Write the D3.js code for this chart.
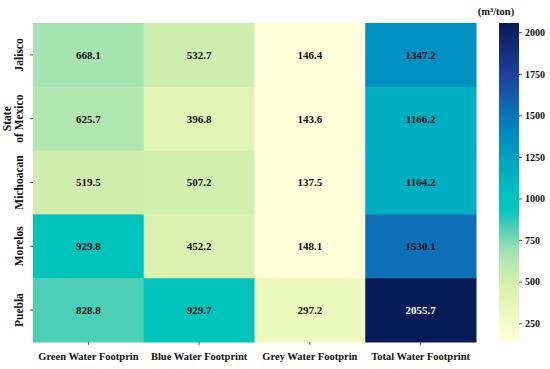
<!DOCTYPE html>
<html><head><meta charset="utf-8">
<script src="https://cdn.jsdelivr.net/npm/d3@7"></script>
<style>body{margin:0;background:#fff}svg{display:block}svg text{font-family:"Liberation Serif","Times New Roman","DejaVu Serif",serif !important;font-weight:bold}</style>
</head><body>
<svg id="c" width="550" height="369"></svg>
<script>
const rows = ["Jalisco", "State\nof Mexico", "Michoacan", "Morelos", "Puebla"];
const cols = ["Green Water Footprin", "Blue Water Footprint", "Grey Water Footprin", "Total Water Footprint"];
const green = [668.1, 625.7, 519.5, 929.8, 828.8];
const blue = [532.7, 396.8, 507.2, 452.2, 929.7];
const grey = [146.4, 143.6, 137.5, 148.1, 297.2];
const total = [1347.2, 1166.2, 1164.2, 1530.1, 2055.7];
const cbTicks = [250, 500, 750, 1000, 1250, 1500, 1750, 2000];
const unitLabel = "(m³/ton)";

const series = [green, blue, grey, total];
const cells = [];
rows.forEach((r, i) => series.forEach((s, j) => cells.push({row: r, col: cols[j], v: s[i]})));
const vmin = d3.min(cells, d => d.v), vmax = d3.max(cells, d => d.v);

const stopVals = [137.5, 300, 450, 530, 630, 670, 830, 930, 1000, 1165, 1347, 1530, 1750, 2055.7];
const stopCols = ["#ffffd9", "#eef9bf", "#daf1b0", "#cdeeae", "#b0e6b1", "#a6e3b3", "#4ccfb5", "#00c4bb", "#00c4bf", "#00aec2", "#0090c2", "#0d6fb5", "#1f3e9b", "#081b58"];
const color = d3.scaleLinear().domain(stopVals).range(stopCols).interpolate(d3.interpolateRgb).clamp(true);

const svg = d3.select("#c");
const L = 33, R = 476, T = 23, B = 342;
const x = d3.scaleBand().domain(cols).range([L, R]);
const y = d3.scaleBand().domain(rows).range([T, B]);

svg.append("g").selectAll("rect").data(cells).join("rect")
  .attr("x", d => x(d.col)).attr("y", d => y(d.row))
  .attr("width", x.bandwidth() + 0.5).attr("height", y.bandwidth() + 0.5)
  .attr("fill", d => color(d.v));

svg.append("g").selectAll("text").data(cells).join("text")
  .attr("x", d => x(d.col) + x.bandwidth() / 2).attr("y", d => y(d.row) + y.bandwidth() / 2)
  .attr("text-anchor", "middle").attr("dy", "0.35em")
  .attr("font-size", 11)
  .attr("fill", d => d.v > 1800 ? "#fff" : "#111")
  .text(d => d.v.toFixed(1));

// x axis
const xa = svg.append("g").attr("transform", `translate(0,${B})`)
  .call(d3.axisBottom(x).tickSize(3).tickPadding(8));
xa.select(".domain").remove();
xa.selectAll("line").attr("stroke", "#555");
xa.selectAll("text").attr("font-size", 10.5).attr("fill", "#111");

// y axis
const ya = svg.append("g").attr("transform", `translate(${L},0)`)
  .call(d3.axisLeft(y).tickSize(3).tickFormat(""));
ya.select(".domain").remove();
ya.selectAll("line").attr("stroke", "#555");
rows.forEach(r => {
  const lines = r.split("\n");
  const cy = y(r) + y.bandwidth() / 2;
  const t = svg.append("text").attr("transform", `translate(${L - 10},${cy}) rotate(-90)`)
    .attr("text-anchor", "middle").attr("font-size", 11.5).attr("fill", "#111");
  lines.forEach((ln, k) => {
    t.append("tspan").attr("x", 0).attr("dy", k === 0 ? -(lines.length - 1) * 12 : 12).text(ln);
  });
});

// colorbar
const cbX = 499, cbW = 20;
const cy = d3.scaleLinear().domain([vmin, vmax]).range([B, T]);
const defs = svg.append("defs");
const grad = defs.append("linearGradient").attr("id", "cbg").attr("x1", 0).attr("y1", 1).attr("x2", 0).attr("y2", 0);
d3.range(0, 1.0001, 0.02).forEach(t => {
  const v = vmin + t * (vmax - vmin);
  grad.append("stop").attr("offset", t).attr("stop-color", color(v));
});
svg.append("rect").attr("x", cbX).attr("y", T).attr("width", cbW).attr("height", B - T).attr("fill", "url(#cbg)");
const ca = svg.append("g").attr("transform", `translate(${cbX + cbW},0)`)
  .call(d3.axisRight(cy).tickValues(cbTicks).tickFormat(d3.format("d")).tickSize(3).tickPadding(3));
ca.select(".domain").remove();
ca.selectAll("line").attr("stroke", "#555");
ca.selectAll("text").attr("font-size", 10).attr("fill", "#111");

svg.append("text").attr("x", 496).attr("y", 15).attr("text-anchor", "middle")
  .attr("font-size", 10.5).attr("fill", "#111").text(unitLabel);
</script>
</body></html>
